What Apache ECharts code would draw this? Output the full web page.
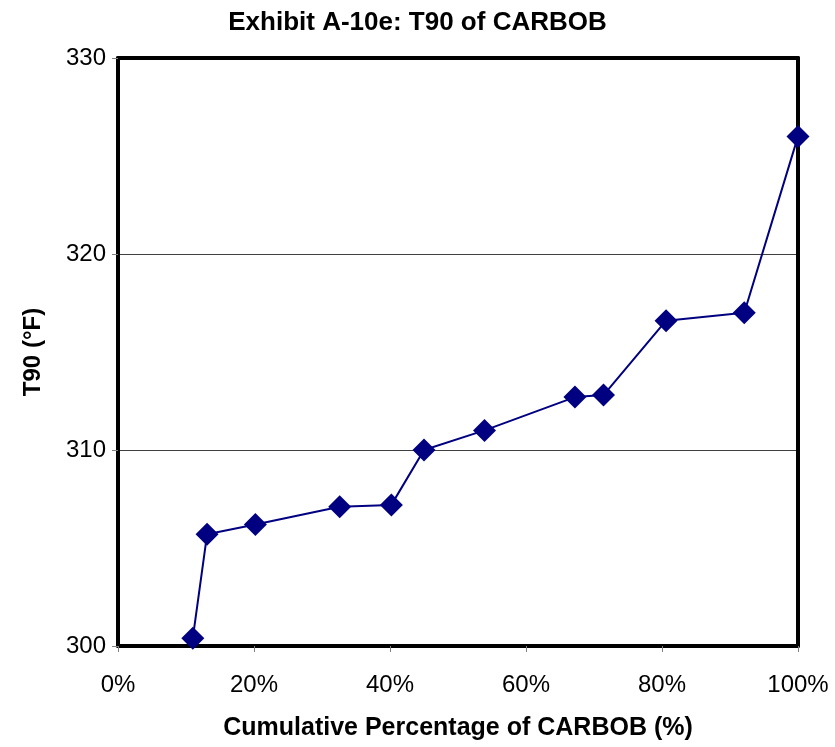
<!DOCTYPE html>
<html>
<head>
<meta charset="utf-8">
<script src="https://cdn.jsdelivr.net/npm/echarts@6/dist/echarts.min.js"></script>
<style>
  html, body { margin: 0; padding: 0; background: #fff; }
  #chart { width: 835px; height: 747px; }
</style>
</head>
<body>
<div id="chart"></div>
<script>
// Cumulative share of CARBOB volume (%) and its T90 distillation temperature (°F)
const cumulativePct = [11.0, 13.1, 20.2, 32.6, 40.2, 45.0, 53.9, 67.2, 71.4, 80.6, 92.1, 100];
const t90Values = [300.4, 305.7, 306.2, 307.1, 307.2, 310.0, 311.0, 312.7, 312.8, 316.6, 317.0, 326.0];
const xTicks = [0, 20, 40, 60, 80, 100];
const yTicks = [300, 310, 320, 330];

const chart = echarts.init(document.getElementById('chart'));
const fontFamily = 'Liberation Sans, Arial, sans-serif';

// Frame drawn by the axis lines on all four sides, so it stays solid black
const frameLine = { show: true, onZero: false, lineStyle: { color: '#000', width: 4 } };

chart.setOption({
  animation: false,
  title: {
    text: 'Exhibit A-10e: T90 of CARBOB',
    left: 'center',
    top: 5,
    textStyle: { fontFamily, fontSize: 26, fontWeight: 'bold', color: '#000' }
  },
  grid: {
    left: 118, right: 37, top: 58, bottom: 101,
    show: false
  },
  xAxis: [{
    type: 'value',
    position: 'bottom',
    min: xTicks[0], max: xTicks[xTicks.length - 1], interval: 20,
    name: 'Cumulative Percentage of CARBOB (%)',
    nameLocation: 'middle', nameGap: 70,
    nameTextStyle: { fontFamily, fontSize: 25, fontWeight: 'bold', color: '#000' },
    axisLine: frameLine,
    axisTick: { show: true, inside: false, length: 6, lineStyle: { color: '#808080' } },
    axisLabel: { formatter: '{value}%', fontFamily, fontSize: 24, color: '#000', margin: 27 },
    splitLine: { show: false },
    z: 1
  }, {
    type: 'value',
    position: 'top',
    min: xTicks[0], max: xTicks[xTicks.length - 1], interval: 20,
    axisLine: frameLine,
    axisTick: { show: false },
    axisLabel: { show: false },
    splitLine: { show: false },
    z: 1
  }],
  yAxis: [{
    type: 'value',
    position: 'left',
    min: yTicks[0], max: yTicks[yTicks.length - 1], interval: 10,
    name: 'T90 (°F)',
    nameLocation: 'middle', nameGap: 73, nameRotate: 90,
    nameTextStyle: { fontFamily, fontSize: 24, fontWeight: 'bold', color: '#000' },
    axisLine: frameLine,
    axisTick: { show: true, inside: false, length: 6, lineStyle: { color: '#808080' } },
    axisLabel: { fontFamily, fontSize: 24, color: '#000', margin: 12 },
    splitLine: { show: true, lineStyle: { color: '#404040', width: 1 } },
    z: 1
  }, {
    type: 'value',
    position: 'right',
    min: yTicks[0], max: yTicks[yTicks.length - 1], interval: 10,
    axisLine: frameLine,
    axisTick: { show: false },
    axisLabel: { show: false },
    splitLine: { show: false },
    z: 1
  }],
  series: [{
    type: 'line',
    data: cumulativePct.map((x, i) => [x, t90Values[i]]),
    symbol: 'diamond',
    symbolSize: 23,
    itemStyle: { color: '#000080' },
    lineStyle: { color: '#000080', width: 2 },
    z: 10
  }]
});
</script>
</body>
</html>
